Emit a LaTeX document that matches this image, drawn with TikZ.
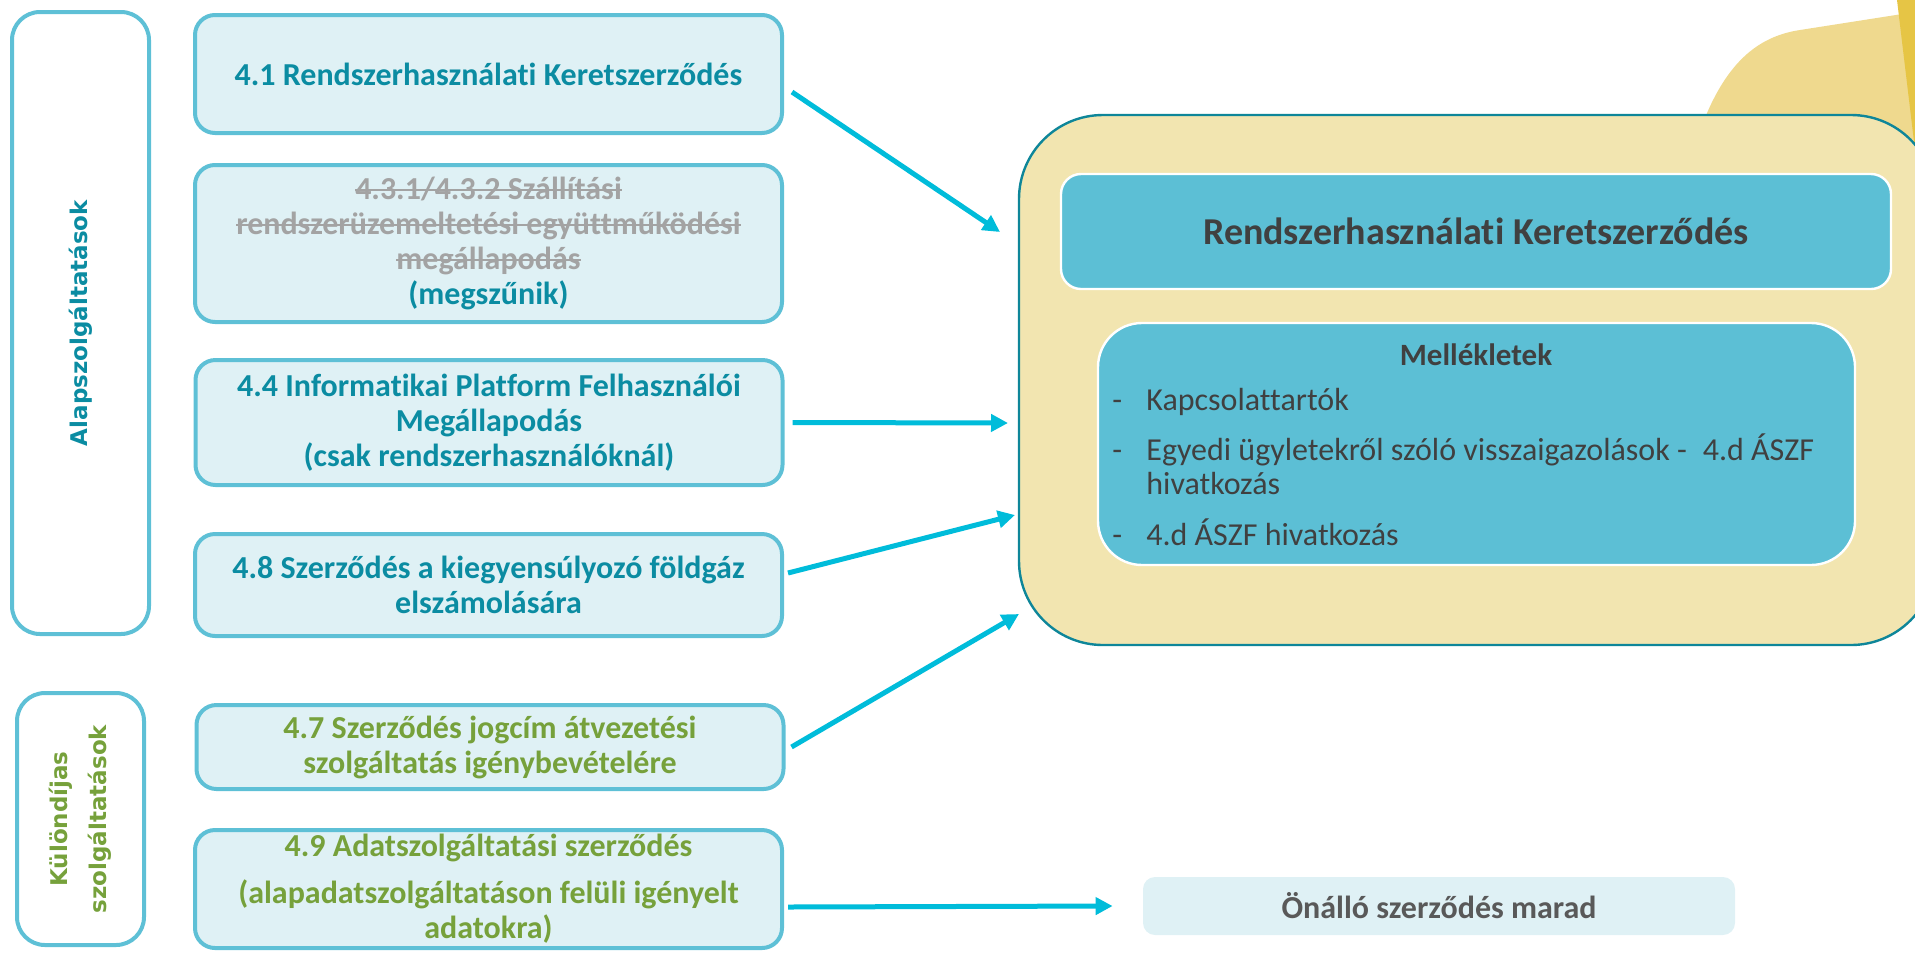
\documentclass[tikz,border=0pt]{standalone}
\usepackage{fontspec}
\setmainfont{Carlito}[Ligatures=NoCommon]
\newfontfamily\vertfont{DejaVu Sans}
\usetikzlibrary{arrows.meta}
\newlength\strucklen
\newcommand\struck[1]{\settowidth{\strucklen}{#1}\rlap{#1}\rule[0.26em]{\strucklen}{1pt}}
\definecolor{boxline}{HTML}{5EC0D6}
\definecolor{boxfill}{HTML}{DFF1F5}
\definecolor{tealtxt}{HTML}{0B8CA2}
\definecolor{greentxt}{HTML}{76A13B}
\definecolor{striketxt}{HTML}{A3A3A3}
\definecolor{darktxt}{HTML}{404040}
\definecolor{graytxt}{HTML}{595959}
\definecolor{framefill}{HTML}{F2E5B0}
\definecolor{frameline}{HTML}{0E8699}
\definecolor{annexfill}{HTML}{5CBFD5}
\definecolor{arrowc}{HTML}{00BCDA}
\definecolor{blob}{HTML}{EFD98E}
\definecolor{blobdark}{HTML}{E6C545}

\begin{document}
\begin{tikzpicture}[x=0.5pt, y=-0.5pt,
  contractbox/.style={draw=boxline, line width=2pt, fill=boxfill, rounded corners=10pt, minimum width=293.5pt, align=center, inner ysep=0pt, font=\bfseries\fontsize{16}{17.5}\selectfont},
  groupbox/.style={draw=boxline, line width=2pt, rotate=90, rounded corners=14pt, align=center, font=\vertfont\bfseries\fontsize{11.5}{13.5}\selectfont},
  annexbox/.style={draw=white, line width=1.2pt, fill=annexfill, text=darktxt},
  linkarrow/.style={draw=arrowc, line width=2.5pt, -{Triangle[length=8.5pt,width=8.5pt]}}]
  \useasboundingbox (0,0) rectangle (1915,954);
  \fill[blob] (1690,160) -- (1707,113) .. controls (1730,60) and (1760,36) .. (1800,30) -- (1915,12) -- (1915,160) -- cycle;
  \fill[blobdark] (1897,0) -- (1915,0) -- (1915,150) -- cycle;

  \node[groupbox, minimum width=311pt, minimum height=68.5pt, text=tealtxt] (alap) at (80.5,323) {Alapszolgáltatások};
  \node[groupbox, minimum width=126pt, minimum height=63.5pt, text=greentxt] (kulon) at (80.5,819) {Különdíjas\\[6pt]szolgáltatások};

  \node[contractbox, minimum height=59pt, text=tealtxt] (b41) at (488.5,74) {4.1 Rendszerhasználati Keretszerződés};
  \node[contractbox, minimum height=78.5pt, text=tealtxt] (b43) at (488.5,243.5) {\textcolor{striketxt}{\struck{4.3.1/4.3.2 Szállítási}}\\\textcolor{striketxt}{\struck{rendszerüzemeltetési együttműködési}}\\\textcolor{striketxt}{\struck{megállapodás}}\\(megszűnik)};
  \node[contractbox, minimum height=62.5pt, text=tealtxt] (b44) at (489,422.5) {4.4 Informatikai Platform Felhasználói\\Megállapodás\\(csak rendszerhasználóknál)};
  \node[contractbox, minimum height=51pt, text=tealtxt] (b48) at (488.5,585) {4.8 Szerződés a kiegyensúlyozó földgáz\\elszámolására};
  \node[contractbox, minimum height=42pt, text=greentxt] (b47) at (490,747) {4.7 Szerződés jogcím átvezetési\\szolgáltatás igénybevételére};
  \node[contractbox, minimum height=59pt, text=greentxt] (b49) at (488.5,889) {4.9 Adatszolgáltatási szerződés\\[6pt](alapadatszolgáltatáson felüli igényelt\\adatokra)};

  \node[draw=frameline, line width=1.2pt, fill=framefill, rounded corners=42pt, minimum width=458pt, minimum height=265pt] (rk) at (1477,380) {};
  \node[annexbox, rounded corners=10pt, minimum width=415pt, minimum height=57.5pt, font=\bfseries\fontsize{19}{22}\selectfont] (rkhead) at (1476,231.5) {Rendszerhasználati Keretszerződés};
  \node[annexbox, rounded corners=22pt, minimum width=378.5pt, minimum height=121pt] (mell) at (1476.5,444) {};
  \node[text=darktxt, font=\bfseries\fontsize{15.5}{18}\selectfont] (mellhead) at (1476,355) {Mellékletek};
  \node[anchor=base west, inner sep=0pt, text=darktxt, font=\fontsize{16}{17}\selectfont] (mellitems) at (1112,410) {\begin{tabular}[t]{@{}p{17pt}@{}l@{}}
    - & Kapcsolattartók\\[7pt]
    - & Egyedi ügyletekről szóló visszaigazolások -\enspace 4.d ÁSZF\\
      & hivatkozás\\[7pt]
    - & 4.d ÁSZF hivatkozás
  \end{tabular}};

  \node[fill=boxfill, rounded corners=6pt, minimum width=296pt, minimum height=29pt, text=graytxt, font=\bfseries\fontsize{16}{18}\selectfont] (onallo) at (1439,906) {Önálló szerződés marad};

  \coordinate (t41) at (1000,232);
  \coordinate (t44) at (1008,423);
  \coordinate (t48) at (1015,515);
  \coordinate (t47) at (1019,614);
  \draw[linkarrow] ([xshift=4pt,yshift=-9pt]b41.east) -- (t41);
  \draw[linkarrow] ([xshift=4pt]b44.east) -- (t44);
  \draw[linkarrow] ([xshift=2pt,yshift=6pt]b48.east) -- (t48);
  \draw[linkarrow] ([xshift=3pt]b47.east) -- (t47);
  \draw[linkarrow] ([xshift=2pt,yshift=-9pt]b49.east) -- ([xshift=-15pt]onallo.west);
\end{tikzpicture}
\end{document}
